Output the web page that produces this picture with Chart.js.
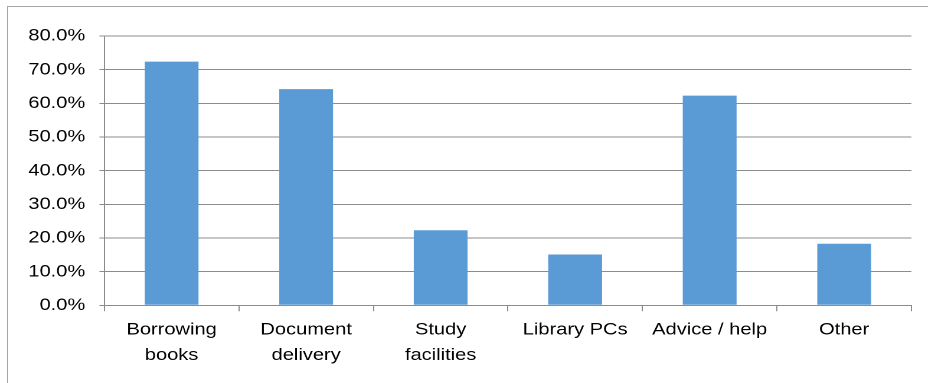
<!DOCTYPE html>
<html>
<head>
<meta charset="utf-8">
<script src="https://cdn.jsdelivr.net/npm/chart.js@4.4.0/dist/chart.umd.min.js"></script>
<style>
  html, body { margin: 0; padding: 0; background: #fff; overflow: hidden; }
  #frame {
    position: absolute; left: 7px; top: 6px; width: 921px; height: 377px;
    box-sizing: border-box;
    border-top: 1px solid #a6a6a6; border-left: 1px solid #a6a6a6;
  }
  /* chart is laid out narrower and stretched sideways, like the wide export */
  #stretch {
    position: absolute; left: 0; top: 0; width: 786px; height: 383px;
    transform: scaleX(1.1806); transform-origin: 0 0;
  }
</style>
</head>
<body>
<div id="frame"></div>
<div id="stretch"><canvas id="chart" width="786" height="383"></canvas></div>
<script>
const categories = [['Borrowing', 'books'], ['Document', 'delivery'], ['Study', 'facilities'], ['Library PCs'], ['Advice / help'], ['Other']];
const shares = [72.4, 64.2, 22.3, 15.1, 62.3, 18.3];
const yTicks = [0, 10, 20, 30, 40, 50, 60, 70, 80];

const lineGrey = '#8c8c8c';

Chart.defaults.font.family = "'Liberation Sans', Arial, sans-serif";
Chart.defaults.color = '#000';

new Chart(document.getElementById('chart').getContext('2d'), {
    type: 'bar',
    data: {
        labels: categories,
        datasets: [{
            data: shares,
            backgroundColor: '#5b9bd5',
            borderWidth: 0,
            barPercentage: 0.4,
            categoryPercentage: 1
        }]
    },
    options: {
        responsive: false,
        devicePixelRatio: 2,
        animation: false,
        layout: { padding: { top: 36, right: 14, left: 0, bottom: 0 } },
        plugins: {
            legend: { display: false },
            tooltip: { enabled: false }
        },
        scales: {
            x: {
                grid: { offset: true, drawOnChartArea: false, color: lineGrey, tickLength: 6 },
                border: { color: lineGrey },
                ticks: { font: { size: 17, lineHeight: 1.5 }, padding: 6, maxRotation: 0, autoSkip: false },
                afterFit: s => { s.height = 77.7; }
            },
            y: {
                min: yTicks[0],
                max: yTicks[yTicks.length - 1],
                afterBuildTicks: s => { s.ticks = yTicks.map(v => ({ value: v })); },
                ticks: { font: { size: 17 }, padding: 12, callback: v => v.toFixed(1) + '%' },
                grid: { color: lineGrey, tickLength: 4.2 },
                border: { color: lineGrey },
                afterFit: s => { s.width = 88.4; }
            }
        }
    }
});
</script>
</body>
</html>
